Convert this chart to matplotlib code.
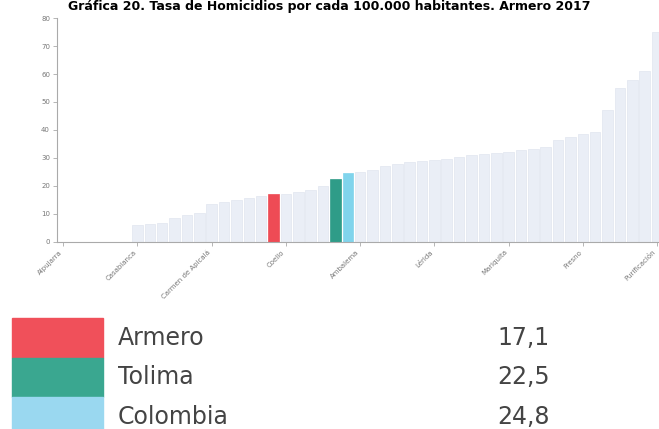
import numpy as np
import matplotlib.pyplot as plt
from matplotlib.patches import Rectangle

# Data: homicide rate per 100.000 inhabitants, sorted ascending
names = ["Alpujarra", "Murillo", "Roncesvalles", "Santa Isabel", "Villarrica", "Herveo",
         "Casabianca", "Villahermosa", "Anzoátegui", "Dolores", "Palocabildo", "Alvarado",
         "Carmen de Apicalá", "Suárez", "Icononzo", "Cunday", "Prado", "Armero",
         "Coello", "Valle de San Juan", "Piedras", "Cajamarca", "Tolima", "Colombia",
         "Ambalema", "Coyaima", "Natagaima", "Ortega", "Saldaña", "Rovira",
         "Lérida", "San Luis", "Venadillo", "Espinal", "Guamo", "Flandes",
         "Mariquita", "Líbano", "Melgar", "Honda", "Ibagué", "Ataco",
         "Fresno", "Chaparral", "Planadas", "Rioblanco", "San Antonio", "Falan",
         "Purificación"]
rates = [0, 0, 0, 0, 0, 0,
         5.9, 6.5, 6.9, 8.6, 9.5, 10.2,
         13.4, 14.3, 15.1, 15.6, 16.5, 17.1,
         17.3, 17.8, 18.6, 20.0, 22.5, 24.8,
         25.0, 25.7, 27.2, 28.0, 28.4, 29.0,
         29.3, 29.8, 30.5, 31.0, 31.4, 31.8,
         32.3, 32.8, 33.2, 34.0, 36.5, 37.5,
         38.5, 39.3, 47.0, 55.0, 58.0, 61.0,
         75.0]
highlight = {"Armero": "#ee4b55", "Tolima": "#2f9c88", "Colombia": "#80d4ec"}
legend_colors = {"Armero": "#f0505a", "Tolima": "#3aa790", "Colombia": "#9ad8f0"}
yticks = [0, 10, 20, 30, 40, 50, 60, 70, 80]
title = "Gráfica 20. Tasa de Homicidios por cada 100.000 habitantes. Armero 2017"

fig = plt.figure(figsize=(6.59, 4.29), dpi=100)
ax = fig.add_axes([0.0865, 0.436, 0.92, 0.522])

x = np.arange(len(names))
colors = [highlight.get(n, "#eaeef6") for n in names]
edges = [highlight.get(n, "#e0e5ef") for n in names]
ax.bar(x, rates, width=0.85, color=colors, edgecolor=edges, linewidth=0.5)

ax.set_xlim(-0.5, len(names) - 0.5)
ax.set_ylim(0, 80)
ax.set_yticks(yticks)
ax.set_yticklabels([str(v) for v in yticks], fontsize=5, color="#777777")
step = 6
ax.set_xticks(x[::step])
ax.set_xticklabels(names[::step], rotation=45, ha="right", fontsize=5, color="#777777")
ax.tick_params(axis="both", length=3, width=0.6, color="#aaaaaa", pad=2)
for s in ["top", "right"]:
    ax.spines[s].set_visible(False)
ax.spines["left"].set_color("#aaaaaa")
ax.spines["bottom"].set_color("#aaaaaa")
ax.spines["left"].set_linewidth(0.8)
ax.spines["bottom"].set_linewidth(0.8)

fig.text(0.5, 0.999, title, ha="center", va="top", fontsize=9, fontweight="bold")

# legend block at the bottom
W, H = 659, 429
box_top = 318
box_h = 39.5
for i, n in enumerate(["Armero", "Tolima", "Colombia"]):
    top = box_top + i * box_h
    fig.patches.append(Rectangle((12 / W, (H - top - box_h) / H), 91 / W, box_h / H,
                                 transform=fig.transFigure, color=legend_colors[n]))
    yc = (H - top - box_h / 2) / H
    fig.text(118 / W, yc, n, ha="left", va="center", fontsize=17, color="#444444")
    v = rates[names.index(n)]
    fig.text(497 / W, yc, f"{v:.1f}".replace(".", ","), ha="left", va="center",
             fontsize=17, color="#444444")

fig.savefig("out.png", dpi=100)
